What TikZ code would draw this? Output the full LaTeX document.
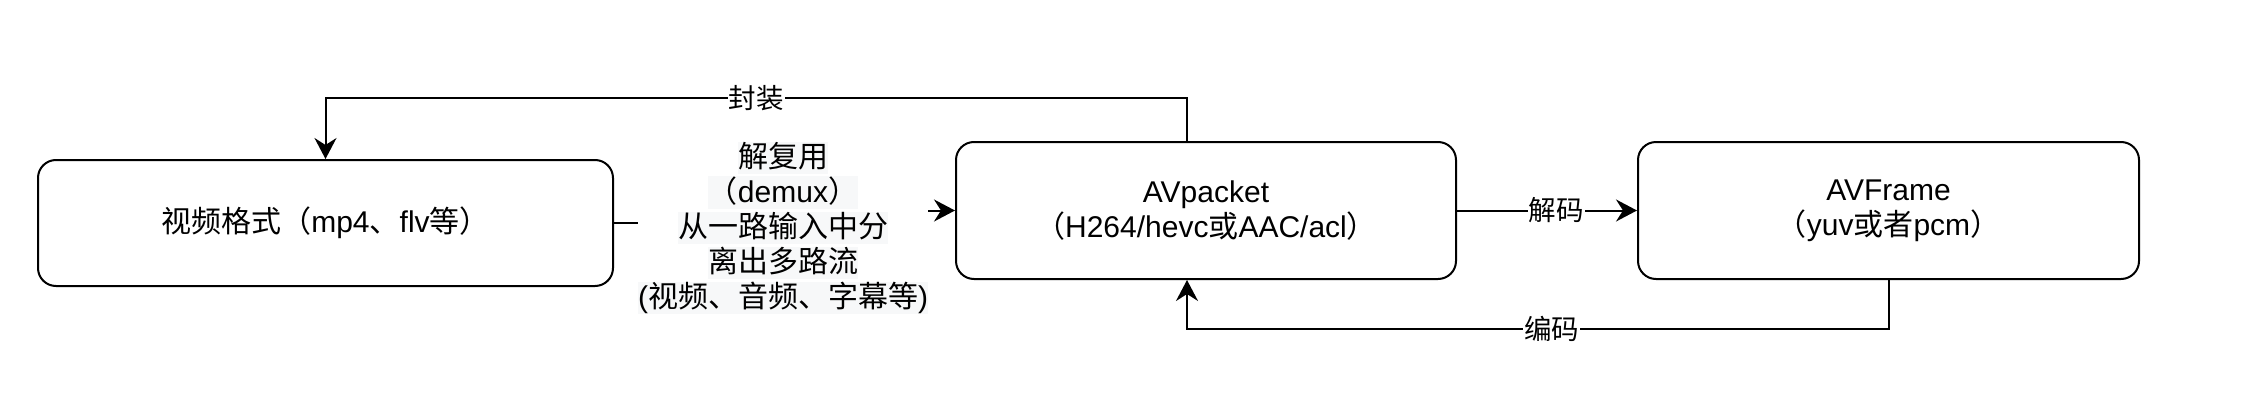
\documentclass[tikz,border=0pt]{standalone}
\usepackage{fontspec}
\setmainfont{Liberation Sans}
\newfontfamily\zhfont{Noto Sans CJK SC}
\newcommand\zh[1]{{\zhfont #1}}
\usetikzlibrary{arrows.meta,calc}
\definecolor{lbg}{RGB}{247,248,249}
\setlength{\fboxsep}{0pt}
\newcommand\lb[1]{\colorbox{lbg}{\rule[-7pt]{0pt}{31pt}#1}}
\begin{document}
\begin{tikzpicture}[x=1pt,y=-1pt,
  box/.style={draw,line width=2pt,rounded corners=18pt,align=center,
    font=\fontsize{30}{35}\selectfont,inner sep=0pt},
  arr/.style={line width=2pt,-{Stealth[length=21pt,width=22pt,inset=7pt]}},
  lbl/.style={fill=white,font=\fontsize{27.5}{33}\selectfont,inner sep=1pt},
  demux/.style={fill=white,inner sep=0pt,align=center,font=\fontsize{30}{35}\selectfont},
]
\useasboundingbox (0,0) rectangle (2242,404);

\node[box,minimum width=575pt,minimum height=126pt] (b1) at (325.5,223)
  {\zh{视频格式（}mp4\zh{、}flv\zh{等）}};
\node[box,minimum width=500pt,minimum height=137pt] (avp) at (1206,210.5)
  {AVpacket\\\zh{（}H264/hevc\zh{或}AAC/acl\zh{）}};
\node[box,minimum width=501pt,minimum height=137pt] (avf) at (1888.5,210.5)
  {AVFrame\\\zh{（}yuv\zh{或者}pcm\zh{）}};

\coordinate (t1) at (1187,98);
\draw[arr] (avp.north -| t1) -- (t1) -| (b1.north) node[pos=0.25,lbl]{\zh{封装}};

\draw[arr] (avp.east) -- (avf.west) node[pos=0.55,lbl]{\zh{解码}};

\coordinate (bt) at (1187,329);
\draw[arr] (avf.south) |- (bt) node[pos=0.74,lbl]{\zh{编码}} -- (avp.south -| bt);

\coordinate (dm) at (784,223);
\draw[arr] (b1.east) -- (dm) |- (avp.west);
\node[demux] (dl) at (783,228)
  {\lb{\zh{解复用}}\\\lb{\zh{（}demux\zh{）}}\\\lb{\zh{从一路输入中分}}\\
   \lb{\zh{离出多路流}}\\\lb{(\zh{视频、音频、字幕等})}};
\end{tikzpicture}
\end{document}
